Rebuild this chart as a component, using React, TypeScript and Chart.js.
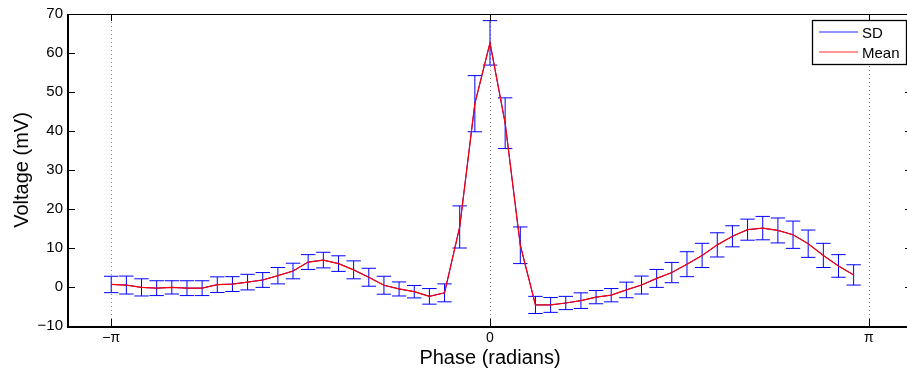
import { useEffect, useRef } from 'react';
import { Chart, registerables } from 'chart.js';

Chart.register(...registerables);

// Mean membrane voltage (mV) per phase bin, 50 bins from -π
const MEAN = [
  0.65, 0.5, -0.1, -0.3, -0.1, -0.3, -0.3, 0.6, 0.75, 1.25,
  1.8, 2.9, 4.1, 6.4, 6.9, 6.0, 4.4, 2.5, 0.45, -0.5,
  -1.2, -2.4, -1.5, 15.4, 47.0, 62.6, 42.0, 10.7, -4.6, -4.6,
  -4.1, -3.5, -2.6, -2.1, -0.75, 0.5, 2.2, 3.7, 5.85, 8.1,
  10.8, 13.0, 14.7, 15.1, 14.5, 13.4, 11.1, 8.1, 5.4, 3.1,
];
// Standard deviation per bin (mV)
const SD = [
  2.1, 2.3, 2.2, 1.9, 1.7, 1.9, 1.9, 2.0, 1.9, 2.0,
  1.9, 2.1, 2.0, 1.9, 2.0, 2.0, 2.3, 2.3, 2.3, 1.8,
  1.6, 2.0, 2.3, 5.4, 7.2, 5.7, 6.5, 4.7, 2.2, 1.9,
  1.7, 2.0, 1.7, 1.7, 2.0, 2.3, 2.3, 2.6, 3.2, 3.1,
  3.1, 2.7, 2.7, 3.0, 3.2, 3.5, 3.5, 3.1, 2.9, 2.6,
];
const N_BINS = 50;
const PHASE = MEAN.map((_, i) => -Math.PI + (i * 2 * Math.PI) / N_BINS);

const X_TICKS = [-Math.PI, 0, Math.PI];
const X_TICK_LABELS = ['\u2212\u03c0', '0', '\u03c0'];
const Y_MIN = -10;
const Y_MAX = 70;
const Y_STEP = 10;
const X_MIN = -3.5;
const X_MAX = 3.5;

const LEGEND_LABELS = ['SD', 'Mean'];
const FONT = '"Liberation Sans", Arial, Helvetica, sans-serif';

const matlabPlugin = {
  id: 'matlabPlugin',
  beforeDatasetsDraw(chart: any) {
    const { ctx, chartArea: a, scales } = chart;
    const xs = scales.x;
    const ys = scales.y;
    ctx.save();
    // dotted grid at x ticks
    ctx.strokeStyle = '#8a8a8a';
    ctx.lineWidth = 1;
    ctx.setLineDash([1, 3]);
    for (const v of X_TICKS) {
      const px = Math.round(xs.getPixelForValue(v)) + 0.5;
      ctx.beginPath();
      ctx.moveTo(px, a.top);
      ctx.lineTo(px, a.bottom);
      ctx.stroke();
    }
    ctx.setLineDash([]);
    // error bars
    ctx.strokeStyle = '#0000ff';
    ctx.lineWidth = 1;
    const cap = 7.2;
    for (let i = 0; i < MEAN.length; i++) {
      const px = xs.getPixelForValue(PHASE[i]);
      const top = ys.getPixelForValue(MEAN[i] + SD[i]);
      const bot = ys.getPixelForValue(MEAN[i] - SD[i]);
      ctx.beginPath();
      ctx.moveTo(px, top);
      ctx.lineTo(px, bot);
      ctx.moveTo(px - cap, top);
      ctx.lineTo(px + cap, top);
      ctx.moveTo(px - cap, bot);
      ctx.lineTo(px + cap, bot);
      ctx.stroke();
    }
    ctx.restore();
  },
  afterDraw(chart: any) {
    const { ctx, chartArea: a, scales } = chart;
    const xs = scales.x;
    const ys = scales.y;
    ctx.save();
    ctx.strokeStyle = '#000';
    // frame
    ctx.lineWidth = 1;
    ctx.beginPath();
    ctx.moveTo(a.left, a.top + 0.5);
    ctx.lineTo(a.right, a.top + 0.5);
    ctx.moveTo(a.right - 0.5, a.top);
    ctx.lineTo(a.right - 0.5, a.bottom);
    ctx.stroke();
    ctx.lineWidth = 2;
    ctx.beginPath();
    ctx.moveTo(a.left, a.top);
    ctx.lineTo(a.left, a.bottom + 1);
    ctx.lineTo(a.right, a.bottom + 1);
    ctx.stroke();
    // inward ticks
    ctx.lineWidth = 1;
    const tl = 7;
    ctx.beginPath();
    for (const v of X_TICKS) {
      const px = Math.round(xs.getPixelForValue(v)) + 0.5;
      ctx.moveTo(px, a.bottom);
      ctx.lineTo(px, a.bottom - tl);
      ctx.moveTo(px, a.top);
      ctx.lineTo(px, a.top + tl);
    }
    for (let v = Y_MIN; v <= Y_MAX; v += Y_STEP) {
      const py = Math.round(ys.getPixelForValue(v)) + 0.5;
      ctx.moveTo(a.left, py);
      ctx.lineTo(a.left + tl, py);
      ctx.moveTo(a.right, py);
      ctx.lineTo(a.right - tl, py);
    }
    ctx.stroke();

    // legend
    const bx = 812.5;
    const by = 20.5;
    const bw = 94;
    const bh = 44;
    ctx.fillStyle = '#fff';
    ctx.fillRect(bx, by, bw, bh);
    ctx.lineWidth = 1.3;
    ctx.strokeRect(bx, by, bw, bh);
    ctx.font = `15px ${FONT}`;
    ctx.textBaseline = 'middle';
    ctx.textAlign = 'left';
    const rows = [32, 52];
    const legendColors = ['#2a2aff', '#ff3030'];
    chart.data.datasets.forEach((_ds: any, i: number) => {
      const y = rows[i];
      ctx.strokeStyle = legendColors[i];
      ctx.lineWidth = 1.2;
      ctx.beginPath();
      ctx.moveTo(819, y);
      ctx.lineTo(858, y);
      ctx.stroke();
      ctx.fillStyle = '#000';
      ctx.fillText(LEGEND_LABELS[i], 862, y + 1.5);
    });
    ctx.restore();
  },
};

export default function App() {
  const ref = useRef<HTMLCanvasElement | null>(null);

  useEffect(() => {
    document.body.style.margin = '0';
    const canvas = ref.current;
    if (!canvas) return;
    const chart = new Chart(canvas, {
      type: 'line',
      data: {
        datasets: [
          {
            label: LEGEND_LABELS[0],
            data: PHASE.map((x, i) => ({ x, y: MEAN[i] })),
            borderColor: '#0000ff',
            borderWidth: 1,
            pointRadius: 0,
            tension: 0,
            order: 2,
          },
          {
            label: LEGEND_LABELS[1],
            data: PHASE.map((x, i) => ({ x, y: MEAN[i] })),
            borderColor: '#ff0000',
            borderWidth: 1.2,
            pointRadius: 0,
            tension: 0,
            order: 1,
          },
        ],
      },
      options: {
        responsive: false,
        devicePixelRatio: 1,
        animation: false,
        events: [],
        layout: { padding: { top: 13, right: 8, bottom: 0, left: 0 } },
        plugins: {
          legend: { display: false },
          tooltip: { enabled: false },
        },
        scales: {
          x: {
            type: 'linear',
            min: X_MIN,
            max: X_MAX,
            afterBuildTicks: (s: any) => {
              s.ticks = X_TICKS.map((value) => ({ value }));
            },
            afterFit: (s: any) => {
              s.height = 51;
            },
            grid: { display: false, drawTicks: false },
            border: { display: false },
            ticks: {
              autoSkip: false,
              maxRotation: 0,
              padding: 4,
              color: '#000',
              font: { family: FONT, size: 14 },
              callback: (_v: any, i: number) => X_TICK_LABELS[i],
            },
            title: {
              display: true,
              text: 'Phase (radians)',
              color: '#000',
              font: { family: FONT, size: 20 },
              padding: { top: 0, bottom: 7 },
            },
          },
          y: {
            type: 'linear',
            min: Y_MIN,
            max: Y_MAX,
            afterFit: (s: any) => {
              s.width = 68;
            },
            grid: { display: false, drawTicks: false },
            border: { display: false },
            ticks: {
              stepSize: Y_STEP,
              padding: 5,
              color: '#000',
              font: { family: FONT, size: 15 },
              callback: (v: any) => (v < 0 ? '\u2212' + Math.abs(v) : String(v)),
            },
            title: {
              display: true,
              text: 'Voltage (mV)',
              color: '#000',
              font: { family: FONT, size: 20 },
              padding: { top: 10, bottom: 0 },
            },
          },
        },
      },
      plugins: [matlabPlugin],
    });
    return () => chart.destroy();
  }, []);

  return (
    <div style={{ width: 907, height: 377, overflow: 'hidden', position: 'relative', background: '#fff' }}>
      <canvas ref={ref} width={920} height={377} style={{ display: 'block' }} />
    </div>
  );
}
